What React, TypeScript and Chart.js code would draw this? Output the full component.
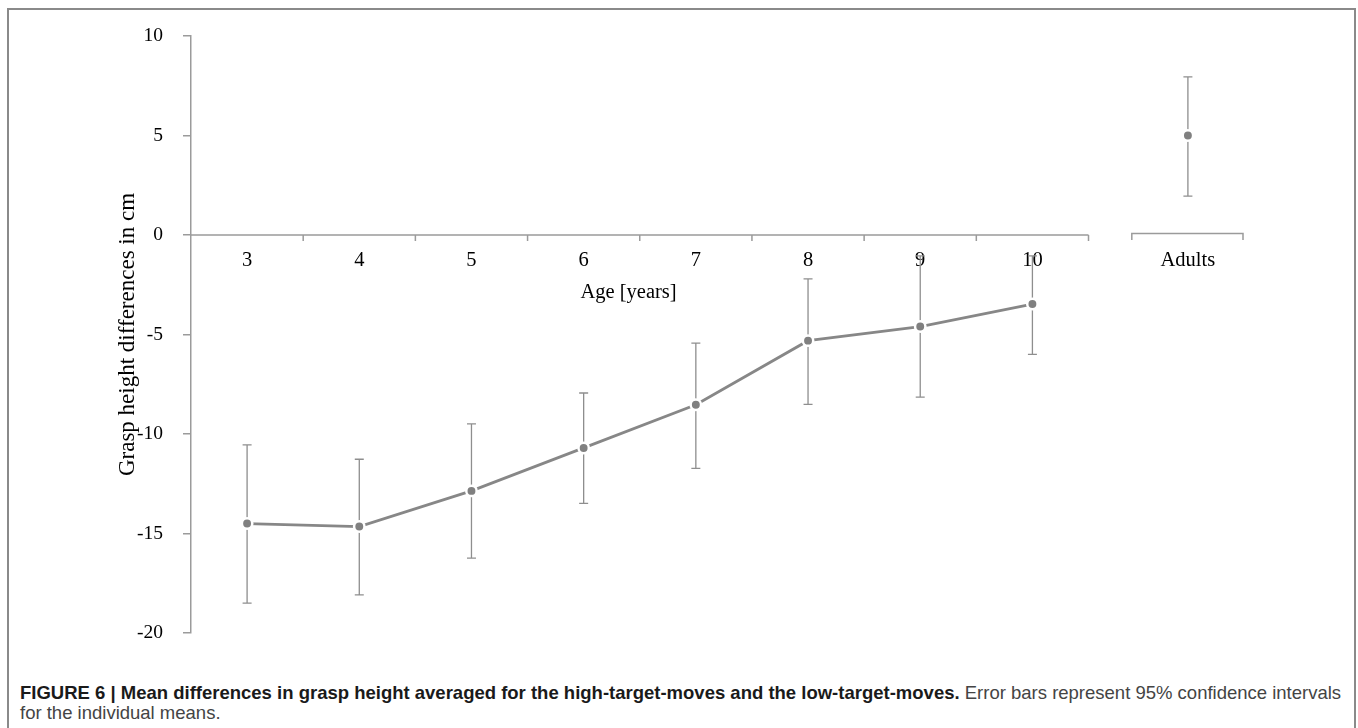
import React, { useEffect, useRef } from "react";
import { Chart, registerables } from "chart.js";

Chart.register(...registerables);

// ---- data ----
const categories = ["3", "4", "5", "6", "7", "8", "9", "10"];
const childMeans = [-14.5, -14.65, -12.86, -10.7, -8.53, -5.31, -4.6, -3.47];
const childLower = [-18.5, -18.08, -16.24, -13.49, -11.73, -8.51, -8.15, -6.0];
const childUpper = [-10.55, -11.27, -9.49, -7.94, -5.43, -2.2, -1.05, -1.05];
const adultLabels = ["Adults"];
const adultMeans = [5.0];
const adultLower = [1.95];
const adultUpper = [7.95];
const yTickValues = [-20, -15, -10, -5, 0, 5, 10];

// ---- layout helpers (not data) ----
const ADULT_GAP = 0.386;
const childX = categories.map((_, i) => i + 0.5);
const adultX = adultLabels.map((_, i) => categories.length + ADULT_GAP + 0.5 + i);
const xMax = adultX[adultX.length - 1] + 0.5;
const allTickX = [...childX, ...adultX];
const allTickLabels = [...categories, ...adultLabels];

const AXIS = "#9b9b9b";
const MARK = "#808080";
const SERIF = '"Liberation Serif", "Times New Roman", serif';

const decorPlugin = {
  id: "decor",
  beforeDatasetsDraw(chart: any) {
    const { ctx } = chart;
    const x = chart.scales.x;
    const y = chart.scales.y;
    const y0 = y.getPixelForValue(0);
    ctx.save();
    // children category axis at y = 0
    ctx.strokeStyle = AXIS;
    ctx.lineWidth = 1.5;
    ctx.beginPath();
    ctx.moveTo(x.getPixelForValue(0), y0);
    ctx.lineTo(x.getPixelForValue(categories.length), y0);
    for (let i = 1; i <= categories.length; i++) {
      const px = x.getPixelForValue(i);
      ctx.moveTo(px, y0);
      ctx.lineTo(px, y0 + 6);
    }
    ctx.stroke();
    // adults bracket
    adultX.forEach((v) => {
      const a0 = x.getPixelForValue(v - 0.5);
      const a1 = x.getPixelForValue(v + 0.5) - 1;
      ctx.beginPath();
      ctx.moveTo(a0, y0 + 5);
      ctx.lineTo(a0, y0 - 1.5);
      ctx.lineTo(a1, y0 - 1.5);
      ctx.lineTo(a1, y0 + 5);
      ctx.stroke();
    });
    // error bars
    ctx.strokeStyle = "#8e8e8e";
    ctx.lineWidth = 1.3;
    const drawBar = (xv: number, lo: number, hi: number) => {
      const px = x.getPixelForValue(xv);
      const pl = y.getPixelForValue(lo);
      const ph = y.getPixelForValue(hi);
      ctx.beginPath();
      ctx.moveTo(px, pl);
      ctx.lineTo(px, ph);
      ctx.moveTo(px - 4.5, pl);
      ctx.lineTo(px + 4.5, pl);
      ctx.moveTo(px - 4.5, ph);
      ctx.lineTo(px + 4.5, ph);
      ctx.stroke();
    };
    childX.forEach((v, i) => drawBar(v, childLower[i], childUpper[i]));
    adultX.forEach((v, i) => drawBar(v, adultLower[i], adultUpper[i]));
    // x axis title
    ctx.fillStyle = "#000";
    ctx.font = "20.5px " + SERIF;
    ctx.textAlign = "center";
    ctx.textBaseline = "middle";
    ctx.fillText("Age [years]", x.getPixelForValue(categories.length / 2 - 0.1), y0 + 58);
    ctx.restore();
  },
};

export default function App() {
  const ref = useRef<HTMLCanvasElement | null>(null);

  useEffect(() => {
    if (!ref.current) return;
    const chart = new Chart(ref.current, {
      type: "line",
      data: {
        datasets: [
          {
            label: "Children",
            data: childX.map((v, i) => ({ x: v, y: childMeans[i] })),
            borderColor: "#878787",
            borderWidth: 2.8,
            backgroundColor: MARK,
            pointBackgroundColor: MARK,
            pointBorderColor: "#ffffff",
            pointBorderWidth: 2.5,
            pointRadius: 5.2,
            tension: 0,
          },
          {
            label: "Adults",
            data: adultX.map((v, i) => ({ x: v, y: adultMeans[i] })),
            showLine: false,
            borderColor: "#878787",
            backgroundColor: MARK,
            pointBackgroundColor: MARK,
            pointBorderColor: "#ffffff",
            pointBorderWidth: 2.5,
            pointRadius: 5.2,
          },
        ],
      },
      options: {
        responsive: false,
        animation: false,
        devicePixelRatio: 1,
        layout: { padding: { left: 0, top: 36, right: 114, bottom: 32 } },
        plugins: {
          legend: { display: false },
          tooltip: { enabled: false },
        },
        scales: {
          x: {
            type: "linear",
            position: { y: 0 } as any,
            min: 0,
            max: xMax,
            afterBuildTicks: (s: any) => {
              s.ticks = allTickX.map((v) => ({ value: v }));
            },
            ticks: {
              autoSkip: false,
              maxRotation: 0,
              padding: 13,
              color: "#000",
              font: { family: SERIF, size: 20.5 },
              callback: (_v: any, i: number) => allTickLabels[i],
            },
            grid: { display: false, drawTicks: false },
            border: { display: false },
          },
          y: {
            type: "linear",
            min: -20,
            max: 10,
            afterBuildTicks: (s: any) => {
              s.ticks = yTickValues.map((v) => ({ value: v }));
            },
            afterFit: (s: any) => {
              s.width = 191;
            },
            ticks: {
              padding: 20,
              color: "#000",
              font: { family: SERIF, size: 19.5 },
            },
            grid: {
              drawOnChartArea: false,
              drawTicks: true,
              tickLength: 8,
              color: AXIS,
              lineWidth: 1.5,
            },
            border: { display: true, color: AXIS, width: 1.5 },
            title: {
              display: true,
              text: "Grasp height differences in cm",
              color: "#000",
              font: { family: SERIF, size: 23 },
              padding: { top: 114, bottom: 0 },
            },
          },
        },
      },
      plugins: [decorPlugin],
    });
    return () => chart.destroy();
  }, []);

  return (
    <>
      <div
        style={{
          position: "absolute",
          left: 7,
          top: 8,
          width: 1349,
          height: 720,
          boxSizing: "border-box",
          borderTop: "2px solid #8a8a8a",
          borderLeft: "2px solid #8a8a8a",
          borderRight: "2px solid #8a8a8a",
        }}
      />
      <canvas
        ref={ref}
        width={1358}
        height={665}
        style={{ position: "absolute", left: 0, top: 0, width: 1358, height: 665 }}
      />
      <div
        style={{
          position: "absolute",
          left: 20,
          top: 683,
          width: 1330,
          fontFamily: '"Liberation Sans", Arial, sans-serif',
          fontSize: 18.5,
          lineHeight: "20px",
          color: "#444",
        }}
      >
        <b style={{ color: "#1a1a1a" }}>
          FIGURE 6 | Mean differences in grasp height averaged for the high-target-moves and the low-target-moves.
        </b>{" "}
        Error bars represent 95% confidence intervals for the individual means.
      </div>
    </>
  );
}
